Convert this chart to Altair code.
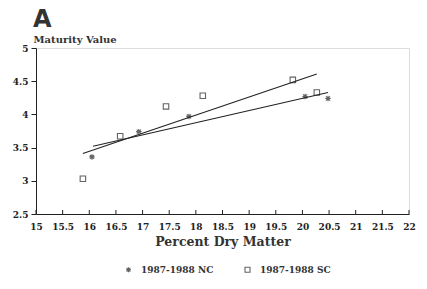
import altair as alt
import pandas as pd

# NC (asterisk) observations
nc_x = [16.05, 16.93, 17.87, 20.05, 20.48]
nc_y = [3.36, 3.74, 3.97, 4.27, 4.24]
# SC (square) observations
sc_x = [15.88, 16.58, 17.44, 18.13, 19.82, 20.27]
sc_y = [3.03, 3.67, 4.12, 4.28, 4.52, 4.33]
# fitted regression lines (end points)
nc_fit_x = [16.07, 20.48]
nc_fit_y = [3.52, 4.33]
sc_fit_x = [15.88, 20.27]
sc_fit_y = [3.41, 4.61]

x_ticks = [15 + 0.5 * i for i in range(15)]
y_ticks = [2.5, 3, 3.5, 4, 4.5, 5]

NC = "1987-1988 NC"
SC = "1987-1988 SC"

pts = pd.DataFrame(
    {"x": nc_x + sc_x, "y": nc_y + sc_y,
     "series": [NC] * len(nc_x) + [SC] * len(sc_x)}
)
fits = pd.DataFrame(
    {"x": nc_fit_x + sc_fit_x, "y": nc_fit_y + sc_fit_y,
     "series": [NC] * 2 + [SC] * 2}
)
ticks_df = pd.DataFrame({"x": x_ticks})

FONT = "DejaVu Serif"
W, H = 373, 166

xs = alt.Scale(domain=[15, 22], nice=False, zero=False)
ys = alt.Scale(domain=[2.5, 5], nice=False, zero=False)

asterisk = "M-1,0L1,0M0,-1L0,1M-0.75,-0.75L0.75,0.75M-0.75,0.75L0.75,-0.75"

x_axis = alt.Axis(values=x_ticks, format="~g", ticks=False, grid=False,
                  labelFont=FONT, labelFontWeight="bold", labelFontSize=9,
                  labelPadding=8, labelColor="#222", domainColor="#222",
                  title="Percent Dry Matter", titleFont=FONT, titleFontSize=12.5,
                  titleFontWeight="bold", titleColor="#333", titlePadding=4,
                  labelFlush=False, labelOverlap=False, labelBound=False)
y_axis = alt.Axis(values=y_ticks, format="~g", grid=False, tickSize=5,
                  tickColor="#222", domainColor="#222",
                  labelFont=FONT, labelFontWeight="bold", labelFontSize=9,
                  labelPadding=3, labelColor="#222", labelOverlap=False,
                  title="Maturity Value", titleAngle=0, titleAlign="left",
                  titleBaseline="alphabetic", titleX=-3, titleY=-6,
                  titleFont=FONT, titleFontSize=10, titleFontWeight="bold",
                  titleColor="#333", labelFlush=False, labelBound=False)

bx = alt.X("x:Q", scale=xs, axis=x_axis)
by = alt.Y("y:Q", scale=ys, axis=y_axis)

points = alt.Chart(pts).mark_point(filled=False, size=30, strokeWidth=1.1, color="#222").encode(
    x=bx, y=by,
    shape=alt.Shape("series:N", scale=alt.Scale(domain=[NC, SC], range=[asterisk, "square"]),
                    legend=alt.Legend(title=None, orient="none", direction="horizontal",
                                      legendX=88, legendY=217, columnPadding=28,
                                      labelFont=FONT, labelFontSize=9, labelFontWeight="bold",
                                      labelColor="#333", symbolStrokeColor="#222",
                                      symbolSize=25, symbolStrokeWidth=1.1, labelOffset=8)),
)

lines = alt.Chart(fits).mark_line(color="#222", strokeWidth=1.1).encode(
    x=bx, y=by, detail="series:N"
)

xticks = alt.Chart(ticks_df).mark_rule(color="#222", strokeWidth=1).encode(
    x=bx, y=alt.value(H - 4), y2=alt.value(H)
)

chart = alt.layer(points, lines, xticks).properties(
    width=W, height=H,
    title=alt.TitleParams("A", anchor="start", frame="group", font="DejaVu Sans",
                          fontSize=24, fontWeight="bold", color="#333", dx=-3,
                          offset=2),
    autosize=alt.AutoSizeParams(type="none"),
    padding={"left": 36, "top": 48, "right": 18, "bottom": 75},
).configure_view(stroke="#222", strokeWidth=1.2).configure(background="white")

chart.save("out.html", embed_options={"renderer": "svg", "actions": False})
